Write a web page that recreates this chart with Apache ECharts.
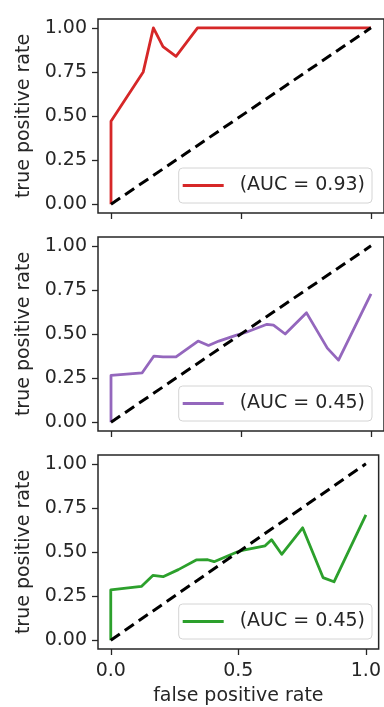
<!DOCTYPE html>
<html>
<head>
<meta charset="utf-8">
<script src="https://cdn.jsdelivr.net/npm/echarts@6/dist/echarts.min.js"></script>
<style>
  html, body { margin: 0; padding: 0; background: #fff; }
  #chart { width: 384px; height: 707px; }
</style>
</head>
<body>
<div id="chart"></div>
<script>
// ROC curves for three classifiers, one panel each: [false positive rate, true positive rate]
const rocA = [[0, 0], [0, 0.47], [0.124, 0.75], [0.163, 1.0], [0.2, 0.893], [0.25, 0.838], [0.333, 1.0], [1, 1]];
const rocB = [[0, 0], [0, 0.265], [0.12, 0.28], [0.165, 0.375], [0.2, 0.37], [0.25, 0.37], [0.335, 0.46],
              [0.375, 0.435], [0.415, 0.46], [0.48, 0.492], [0.52, 0.51], [0.6, 0.555], [0.625, 0.55],
              [0.67, 0.5], [0.752, 0.62], [0.832, 0.42], [0.875, 0.352], [1, 0.727]];
const rocC = [[0, 0], [0, 0.285], [0.12, 0.305], [0.165, 0.367], [0.205, 0.36], [0.265, 0.4], [0.335, 0.455],
              [0.38, 0.456], [0.405, 0.445], [0.495, 0.5], [0.52, 0.51], [0.605, 0.535], [0.63, 0.57],
              [0.67, 0.487], [0.752, 0.637], [0.832, 0.355], [0.875, 0.331], [1, 0.71]];
const chance = [[0, 0], [1, 1]];

const curves = [rocA, rocB, rocC];
const curveNames = ['rocA', 'rocB', 'rocC'];
const legendLabels = ['(AUC = 0.93)', '(AUC = 0.45)', '(AUC = 0.45)'];
const colors = ['#d62728', '#9467bd', '#2ca02c'];

const yTicks = [0, 0.25, 0.5, 0.75, 1];
const xTicks = [0, 0.5, 1];
const yAxisTitle = 'true positive rate';
const xAxisTitle = 'false positive rate';

const FONT = 'DejaVu Sans';
const FS = 19;
const INK = '#262626';
const panelTops = [19, 237, 455];
const panelHeight = 194;

const grids = [], xAxes = [], yAxes = [], series = [], legends = [];

curves.forEach((data, i) => {
  grids.push({
    left: 98, width: 286, top: panelTops[i], height: panelHeight,
    show: true, borderColor: INK, borderWidth: 1.5, backgroundColor: 'transparent'
  });
  const isBottom = i === curves.length - 1;
  xAxes.push({
    type: 'value', gridIndex: i, min: -0.05, max: 1.05,
    axisLine: { show: false, onZero: false },
    splitLine: { show: false },
    axisTick: { show: true, inside: false, customValues: xTicks, length: 6, lineStyle: { color: INK, width: 1.3 } },
    axisLabel: {
      show: isBottom, customValues: xTicks, margin: 13, hideOverlap: false,
      fontFamily: FONT, fontSize: FS, color: INK,
      formatter: v => v.toFixed(1)
    },
    name: isBottom ? xAxisTitle : '',
    nameLocation: 'middle', nameGap: 38,
    nameTextStyle: { fontFamily: FONT, fontSize: FS, color: INK }
  });
  yAxes.push({
    type: 'value', gridIndex: i, min: -0.05, max: 1.05,
    axisLine: { show: false, onZero: false },
    splitLine: { show: false },
    axisTick: { show: true, inside: false, customValues: yTicks, length: 6, lineStyle: { color: INK, width: 1.3 } },
    axisLabel: {
      customValues: yTicks, margin: 11,
      fontFamily: FONT, fontSize: FS, color: INK,
      formatter: v => v.toFixed(2)
    },
    name: yAxisTitle, nameLocation: 'middle', nameGap: 62, nameRotate: 90,
    nameTextStyle: { fontFamily: FONT, fontSize: FS, color: INK }
  });
  series.push({
    name: curveNames[i], type: 'line', xAxisIndex: i, yAxisIndex: i,
    data: data, showSymbol: false, symbol: 'none', z: 2,
    lineStyle: { color: colors[i], width: 2.8, join: 'round' },
    itemStyle: { color: colors[i] }
  });
  series.push({
    name: 'chance' + i, type: 'line', xAxisIndex: i, yAxisIndex: i,
    data: chance, showSymbol: false, symbol: 'none', z: 3,
    lineStyle: { color: '#000', width: 3, type: [11, 6] }
  });
  legends.push({
    data: [curveNames[i]],
    right: 12, top: panelTops[i] + 149,
    orient: 'horizontal',
    icon: 'rect', itemWidth: 41, itemHeight: 3,
    padding: [8, 7, 8, 4],
    borderColor: '#d4d4d4', borderWidth: 1, borderRadius: 4,
    backgroundColor: 'rgba(255,255,255,0.85)',
    selectedMode: false,
    textStyle: { fontFamily: FONT, fontSize: FS, color: INK, padding: [0, 0, 0, 11] },
    formatter: () => legendLabels[i]
  });
});

const chart = echarts.init(document.getElementById('chart'), null, { renderer: 'canvas' });
chart.setOption({
  animation: false,
  backgroundColor: '#fff',
  grid: grids,
  xAxis: xAxes,
  yAxis: yAxes,
  legend: legends,
  series: series
});
</script>
</body>
</html>
